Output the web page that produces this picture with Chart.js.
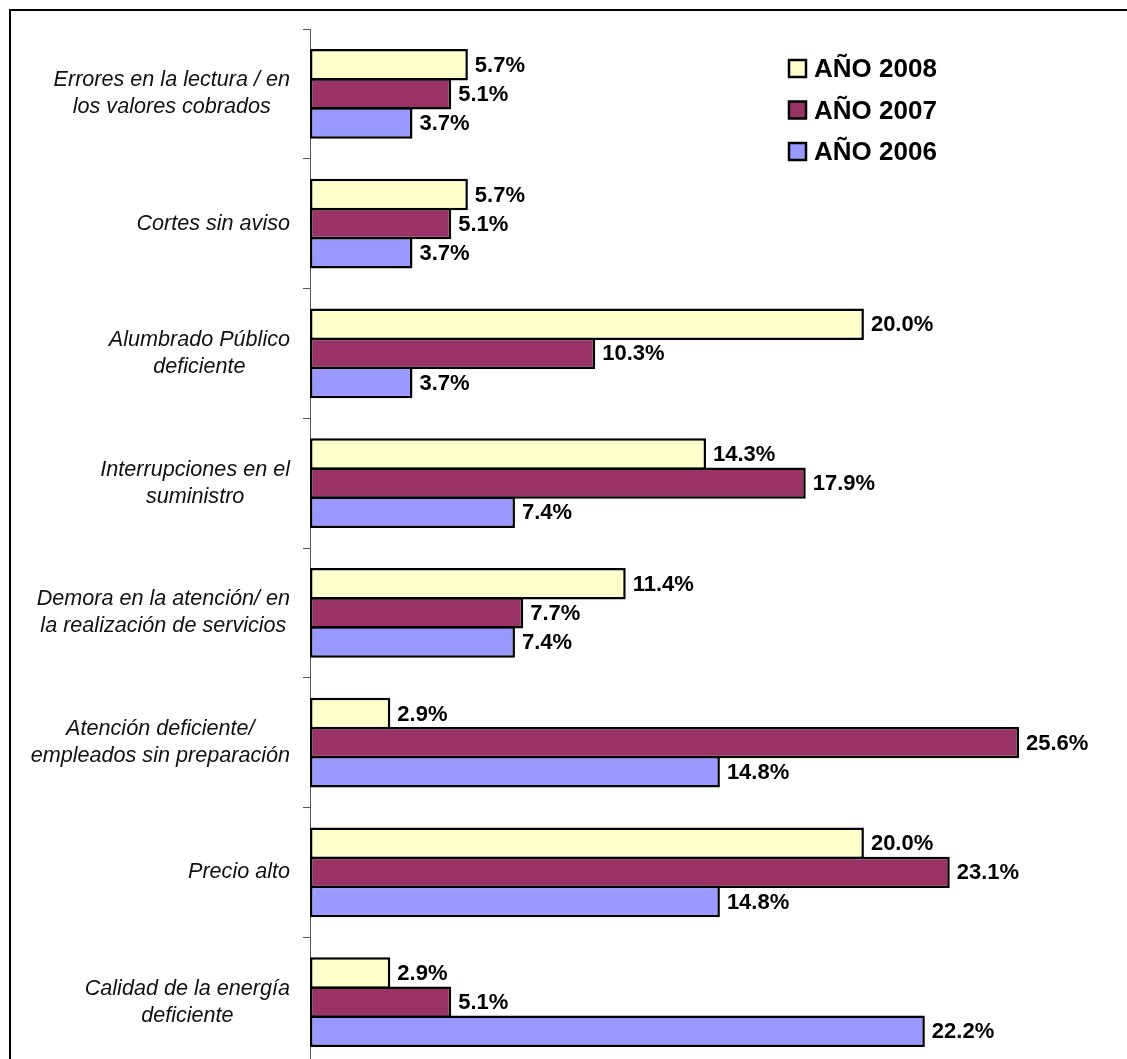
<!DOCTYPE html>
<html>
<head>
<meta charset="utf-8">
<title>Motivos de reclamo</title>
<script src="https://cdn.jsdelivr.net/npm/chart.js@4.4.1/dist/chart.umd.min.js"></script>
<style>
  html, body { margin: 0; padding: 0; background: #fff; overflow: hidden; }
  #wrap { position: relative; width: 1127px; height: 1059px; overflow: hidden; }
  #frame { position: absolute; left: 9px; top: 9px; width: 1300px; height: 1300px;
           border-left: 2px solid #000; border-top: 2px solid #000; box-sizing: border-box; }
  #chart { position: absolute; left: 0; top: 0; }
</style>
</head>
<body>
<div id="wrap">
  <div id="frame"></div>
  <canvas id="chart" width="1127" height="1067"></canvas>
</div>
<script>
// Categories, top to bottom
const categories = [
  ['Errores en la lectura / en', 'los valores cobrados'],
  ['Cortes sin aviso'],
  ['Alumbrado Público', 'deficiente'],
  ['Interrupciones en el', 'suministro'],
  ['Demora en la atención/ en', 'la realización de servicios'],
  ['Atención deficiente/', 'empleados sin preparación'],
  ['Precio alto'],
  ['Calidad de la energía', 'deficiente']
];

// Percentages per year
const year2008 = [5.7, 5.7, 20.0, 14.3, 11.4, 2.9, 20.0, 2.9];
const year2007 = [5.1, 5.1, 10.3, 17.9, 7.7, 25.6, 23.1, 5.1];
const year2006 = [3.7, 3.7, 3.7, 7.4, 7.4, 14.8, 14.8, 22.2];

const seriesNames = ['AÑO 2008', 'AÑO 2007', 'AÑO 2006'];
const seriesColors = ['#FFFFCC', '#993366', '#9999FF'];

const FONT = '"Liberation Sans", Arial, sans-serif';
const AXIS_X = 310;

// Category names: each block right-aligned to the axis, lines centred within the block
const categoryLabels = {
  id: 'categoryLabels',
  afterDraw(chart) {
    const scale = chart.scales.y;
    const ctx = chart.ctx;
    ctx.save();
    ctx.font = 'italic 21.6px ' + FONT;
    ctx.fillStyle = '#111';
    ctx.textAlign = 'center';
    ctx.textBaseline = 'middle';
    const lineH = 27;
    chart.data.labels.forEach((lines, i) => {
      const y = scale.getPixelForValue(i);
      const blockW = Math.max(...lines.map(l => ctx.measureText(l).width));
      const cx = scale.right - 20 - blockW / 2;
      const y0 = y - (lines.length - 1) * lineH / 2;
      lines.forEach((l, k) => ctx.fillText(l, cx, y0 + k * lineH));
    });
    ctx.restore();
  }
};

// Value labels at the end of each bar
const valueLabels = {
  id: 'valueLabels',
  afterDatasetsDraw(chart) {
    const ctx = chart.ctx;
    ctx.save();
    ctx.font = 'bold 22px ' + FONT;
    ctx.fillStyle = '#000';
    ctx.textAlign = 'left';
    ctx.textBaseline = 'middle';
    chart.data.datasets.forEach((ds, di) => {
      const meta = chart.getDatasetMeta(di);
      meta.data.forEach((bar, i) => {
        ctx.fillText(ds.data[i].toFixed(1) + '%', bar.x + 7, bar.y + 1);
      });
    });
    ctx.restore();
  }
};

// Legend box in the upper right of the plot
const legendBox = {
  id: 'legendBox',
  afterDraw(chart) {
    const ctx = chart.ctx;
    ctx.save();
    chart.data.datasets.forEach((ds, i) => {
      const cy = 69 + i * 41.5;
      ctx.fillStyle = ds.backgroundColor;
      ctx.fillRect(789, cy - 9, 17, 17);
      ctx.lineWidth = 2.5;
      ctx.strokeStyle = '#000';
      ctx.strokeRect(789, cy - 9, 17, 17);
      ctx.font = 'bold 26px ' + FONT;
      ctx.fillStyle = '#000';
      ctx.textBaseline = 'middle';
      ctx.textAlign = 'left';
      ctx.fillText(ds.label, 814, cy + 1);
    });
    ctx.restore();
  }
};

const datasets = [year2008, year2007, year2006].map((vals, i) => ({
  label: seriesNames[i],
  data: vals,
  backgroundColor: seriesColors[i],
  borderColor: '#000',
  borderWidth: 2.5,
  borderSkipped: false,
  categoryPercentage: 0.672,
  barPercentage: 1.08
}));

new Chart(document.getElementById('chart'), {
  type: 'bar',
  data: { labels: categories, datasets },
  options: {
    indexAxis: 'y',
    responsive: false,
    animation: false,
    layout: { padding: { left: 0, right: 0, top: 29, bottom: 0 } },
    plugins: { legend: { display: false }, tooltip: { enabled: false } },
    scales: {
      x: {
        display: false,
        min: 0,
        max: 29.5
      },
      y: {
        offset: true,
        ticks: { display: false },
        grid: {
          offset: true,
          drawOnChartArea: false,
          drawTicks: true,
          tickLength: 7,
          color: '#555',
          lineWidth: 1
        },
        border: { display: true, color: '#555', width: 1 },
        afterFit(scale) { scale.width = AXIS_X; }
      }
    }
  },
  plugins: [categoryLabels, valueLabels, legendBox]
});
</script>
</body>
</html>
